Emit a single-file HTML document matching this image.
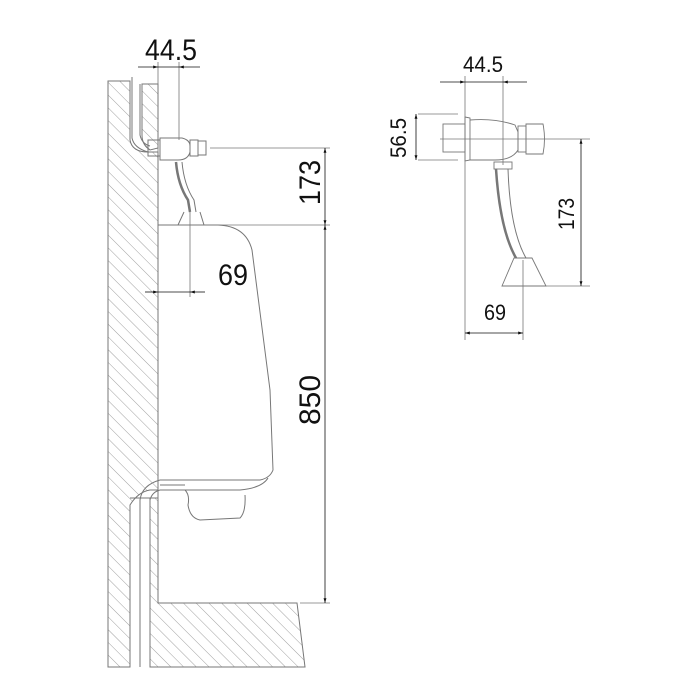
<!DOCTYPE html>
<html><head><meta charset="utf-8"><style>
html,body{margin:0;padding:0;background:#fff;}
svg{display:block}
text{font-family:"Liberation Sans Narrow","Liberation Sans",sans-serif;fill:#111;}
</style></head><body>
<svg width="700" height="700" viewBox="0 0 700 700" xmlns="http://www.w3.org/2000/svg">
<defs>
<pattern id="h" patternUnits="userSpaceOnUse" width="9" height="9" patternTransform="rotate(-45)">
<line x1="0" y1="0" x2="0" y2="9" stroke="#888" stroke-width="0.8"/>
</pattern>
<marker id="a" viewBox="0 0 10 10" refX="10" refY="5" markerWidth="8" markerHeight="6" orient="auto-start-reverse">
<path d="M0,2 L10,5 L0,8 z" fill="#111"/></marker>
</defs>
<g stroke="#777" stroke-width="1" fill="none">
<!-- wall -->
<path d="M108,81 L130,81 L130,140 Q132,152 148,152 L158,152 L158,490 L150,490 Q138,492 130,505 L130,667 L108,667 Z" fill="url(#h)"/>
<path d="M142,84 L158,84 L158,148 L150,150 Q142,145 142,135 Z" fill="url(#h)"/>
<path d="M150,498 L158,498 L158,603 L297,603 L305,667 L150,667 Z" fill="url(#h)"/>
<line x1="108" y1="81" x2="108" y2="667"/>
<line x1="158" y1="225" x2="158" y2="603"/>
<!-- pipe channel -->
<path d="M132,77 L132,138 Q134,148 148,152"/>
<path d="M140,84 L140,135 Q142,144 150,146"/>
<!-- drain pipes -->
<path d="M140,667 L140,500 Q142,485 160,480"/>
<path d="M150,667 L150,500 Q152,492 160,490"/>
<line x1="130" y1="498" x2="150" y2="498"/>
<!-- valve -->
<rect x="148" y="140" width="12" height="16"/>
<path d="M160,138 L182,138 Q190,140 190,146 L190,152 Q188,160 178,160 L160,160 Z"/>
<rect x="190" y="140" width="8" height="16"/>
<rect x="198" y="141" width="8" height="14"/>
<!-- hose -->
<path d="M176,162 Q178,185 188,200 L190,212" stroke-width="2.5"/>
<path d="M182,162 Q184,185 194,200 L196,212" stroke-width="1"/>
<path d="M184,212 L178,225 M200,212 L204,225"/>
<!-- urinal -->
<path d="M158,225 L218,225 Q246,226 252,250 L270,390 L273,470 Q270,478 260,480 L160,480"/>
<path d="M160,490 L240,490 Q262,488 268,478"/>
<path d="M165,490 L185,490 Q190,495 188,505 Q190,518 200,520 L240,518 Q246,512 245,495"/>
<line x1="160" y1="485" x2="185" y2="485"/>
</g>
<!-- dimensions left -->
<g stroke="#777" stroke-width="0.8" fill="none">
<line x1="158" y1="62" x2="158" y2="225"/>
<line x1="179" y1="62" x2="179" y2="140"/>
<line x1="210" y1="148" x2="330" y2="148"/>
<line x1="158" y1="225" x2="330" y2="225"/>
<line x1="300" y1="603" x2="330" y2="603"/>
<line x1="190" y1="212" x2="190" y2="297"/>
</g>
<g stroke="#111" stroke-width="0.8" fill="none">
<line x1="138" y1="67" x2="158" y2="67" marker-end="url(#a)"/>
<line x1="200" y1="67" x2="179" y2="67" marker-end="url(#a)"/>
<line x1="158" y1="67" x2="179" y2="67"/>
<line x1="325" y1="148" x2="325" y2="225" marker-start="url(#a)" marker-end="url(#a)"/>
<line x1="325" y1="225" x2="325" y2="603" marker-start="url(#a)" marker-end="url(#a)"/>
<line x1="145" y1="292" x2="158" y2="292" marker-end="url(#a)"/>
<line x1="205" y1="292" x2="190" y2="292" marker-end="url(#a)"/>
<line x1="158" y1="292" x2="190" y2="292"/>
</g>
<text x="145" y="60" font-size="30" textLength="52" lengthAdjust="spacingAndGlyphs">44.5</text>
<text x="218" y="285" font-size="30" textLength="30" lengthAdjust="spacingAndGlyphs">69</text>
<text transform="translate(320,205) rotate(-90)" font-size="30" textLength="45" lengthAdjust="spacingAndGlyphs">173</text>
<text transform="translate(320,425) rotate(-90)" font-size="30" textLength="50" lengthAdjust="spacingAndGlyphs">850</text>
<!-- right figure -->
<g stroke="#777" stroke-width="0.9" fill="none">
<rect x="443" y="124" width="22" height="28"/>
<path d="M465,117 L470,118 L470,160 L465,161 Z"/>
<path d="M470,120 Q495,118 515,125 L518,132 L518,150 Q512,160 495,160 L470,160"/>
<rect x="518" y="126" width="8" height="26"/>
<path d="M526,124 L543,124 Q546,139 543,154 L526,154 Z"/>
<rect x="494" y="162" width="18" height="7"/>
<path d="M496,169 Q500,230 516,258" stroke-width="2.5"/>
<path d="M508,169 Q510,230 526,258" stroke-width="1"/>
<path d="M514,258 L532,258 L546,286 L502,286 Z"/>
</g>
<g stroke="#777" stroke-width="0.8" fill="none">
<line x1="465" y1="76" x2="465" y2="340"/>
<line x1="503" y1="76" x2="503" y2="165"/>
<line x1="418" y1="114" x2="458" y2="114"/>
<line x1="418" y1="160" x2="458" y2="160"/>
<line x1="440" y1="139" x2="590" y2="139"/>
<line x1="546" y1="286" x2="590" y2="286"/>
<line x1="523" y1="260" x2="523" y2="340"/>
</g>
<g stroke="#111" stroke-width="0.8" fill="none">
<line x1="440" y1="82" x2="465" y2="82" marker-end="url(#a)"/>
<line x1="527" y1="82" x2="503" y2="82" marker-end="url(#a)"/>
<line x1="465" y1="82" x2="503" y2="82"/>
<line x1="416" y1="114" x2="416" y2="160" marker-start="url(#a)" marker-end="url(#a)"/>
<line x1="581" y1="139" x2="581" y2="286" marker-start="url(#a)" marker-end="url(#a)"/>
<line x1="465" y1="333" x2="523" y2="333" marker-start="url(#a)" marker-end="url(#a)"/>
</g>
<text x="463" y="72" font-size="22" textLength="40" lengthAdjust="spacingAndGlyphs">44.5</text>
<text x="484" y="320" font-size="22" textLength="22" lengthAdjust="spacingAndGlyphs">69</text>
<text transform="translate(406,158) rotate(-90)" font-size="22" textLength="40" lengthAdjust="spacingAndGlyphs">56.5</text>
<text transform="translate(574,230) rotate(-90)" font-size="22" textLength="32" lengthAdjust="spacingAndGlyphs">173</text>
</svg>
</body></html>
